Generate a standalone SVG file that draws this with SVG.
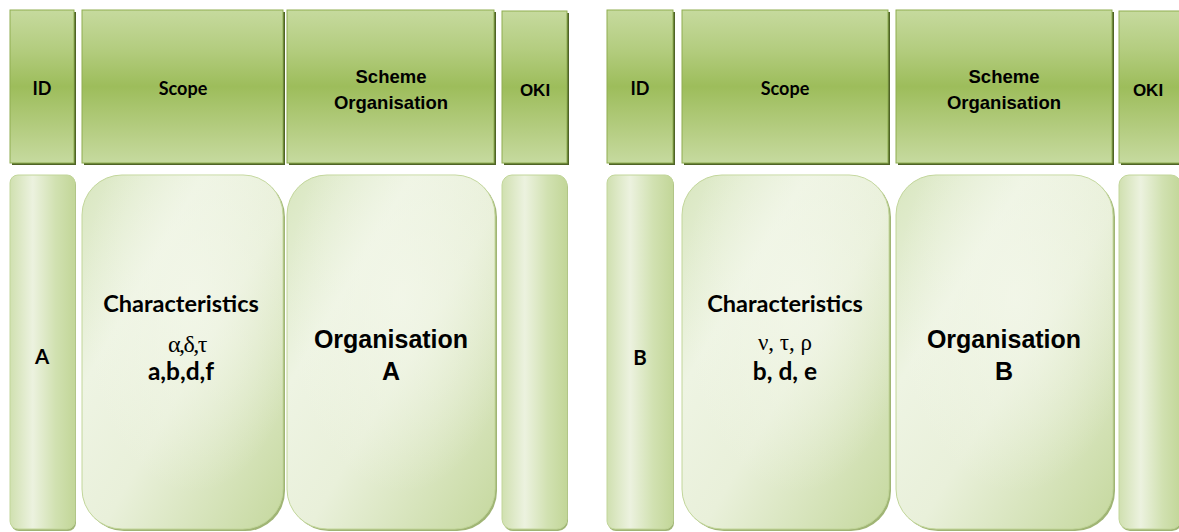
<svg xmlns="http://www.w3.org/2000/svg" width="1179" height="532" viewBox="0 0 1179 532">
<defs>
<linearGradient id="hg" x1="0" y1="0" x2="0" y2="1">
<stop offset="0" stop-color="#c6da9e"/>
<stop offset="0.25" stop-color="#b4cd80"/>
<stop offset="0.5" stop-color="#9dbd5b"/>
<stop offset="0.75" stop-color="#b2cb7d"/>
<stop offset="1" stop-color="#c6da9f"/>
</linearGradient>
<linearGradient id="bg" x1="0" y1="0" x2="1" y2="1">
<stop offset="0" stop-color="#d8e6bf"/>
<stop offset="0.3" stop-color="#eef4e3"/>
<stop offset="0.55" stop-color="#e9f0da"/>
<stop offset="1" stop-color="#c5d89e"/>
</linearGradient>
<linearGradient id="bg2" x1="0" y1="0" x2="1" y2="0">
<stop offset="0" stop-color="#d0e0b0"/>
<stop offset="0.35" stop-color="#ecf2df"/>
<stop offset="0.7" stop-color="#d1e1b1"/>
<stop offset="1" stop-color="#c2d698"/>
</linearGradient>
<radialGradient id="hl" cx="0.55" cy="0.35" r="0.55">
<stop offset="0" stop-color="#f3f7ea" stop-opacity="0.8"/>
<stop offset="1" stop-color="#f3f7ea" stop-opacity="0"/>
</radialGradient>
</defs>
<style>
.hs{fill:#4f6426;}
.h{fill:url(#hg);stroke:#8fae50;stroke-width:1;}
.bs{fill:#a0b575;}
.b{fill:url(#bg);stroke:#c2d69a;stroke-width:1;}
.n{fill:url(#bg2);stroke:#c2d69a;stroke-width:1;}
.t{font-family:Lato,"Liberation Sans",sans-serif;font-weight:bold;fill:#000;text-anchor:middle;}
.a{font-family:"Liberation Sans",Arial,sans-serif;font-weight:bold;fill:#000;text-anchor:middle;}
.g{font-family:"Liberation Serif","Times New Roman",serif;fill:#000;text-anchor:middle;}
</style>

<g id="left-header-id">
<rect class="hs" x="12" y="12" width="64" height="153"/>
<rect class="h" x="10" y="10" width="64" height="153"/>
<text class="t" x="42" y="95" font-size="18">ID</text>
</g>
<g id="left-header-scope">
<rect class="hs" x="84" y="12" width="201" height="153"/>
<rect class="h" x="82" y="10" width="201" height="153"/>
<text class="t" x="183" y="95" font-size="18">Scope</text>
</g>
<g id="left-header-scheme">
<rect class="hs" x="289" y="12" width="207" height="153"/>
<rect class="h" x="287" y="10" width="207" height="153"/>
<text class="a" x="391" y="83" font-size="18.5">Scheme</text>
<text class="a" x="391" y="109" font-size="18.5">Organisation</text>
</g>
<g id="left-header-oki">
<rect class="hs" x="504" y="13" width="65" height="152"/>
<rect class="h" x="502" y="11" width="65" height="152"/>
<text class="a" x="535" y="96" font-size="17">OKI</text>
</g>

<g id="left-id-a">
<rect class="bs" x="11" y="177" width="65" height="354" rx="8"/>
<rect class="n" x="10" y="175" width="65" height="354" rx="8"/>
<text class="t" x="42" y="364" font-size="20.5">A</text>
</g>
<g id="left-scope">
<rect class="bs" x="84" y="177" width="201" height="354" rx="40"/>
<rect class="b" x="82" y="175" width="201" height="354" rx="40"/>
<rect x="82" y="175" width="201" height="354" rx="40" fill="url(#hl)"/>
<text class="t" x="181" y="312" font-size="23.5">Characteristics</text>
<text class="g" x="187" y="352" font-size="24" letter-spacing="-1.5">α,δ,τ</text>
<text class="t" x="181" y="380" font-size="24.5">a,b,d,f</text>
</g>
<g id="left-scheme">
<rect class="bs" x="289" y="177" width="208" height="354" rx="40"/>
<rect class="b" x="287" y="175" width="208" height="354" rx="40"/>
<rect x="287" y="175" width="208" height="354" rx="40" fill="url(#hl)"/>
<text class="a" x="391" y="348" font-size="25">Organisation</text>
<text class="a" x="391" y="380" font-size="25">A</text>
</g>
<g id="left-oki">
<rect class="bs" x="503" y="177" width="65" height="354" rx="10"/>
<rect class="n" x="502" y="175" width="65" height="354" rx="10"/>
</g>

<g id="right-header-id">
<rect class="hs" x="609" y="12" width="66" height="153"/>
<rect class="h" x="607" y="10" width="66" height="153"/>
<text class="t" x="640" y="95" font-size="18">ID</text>
</g>
<g id="right-header-scope">
<rect class="hs" x="684" y="12" width="206" height="153"/>
<rect class="h" x="682" y="10" width="206" height="153"/>
<text class="t" x="785" y="95" font-size="18">Scope</text>
</g>
<g id="right-header-scheme">
<rect class="hs" x="898" y="12" width="216" height="153"/>
<rect class="h" x="896" y="10" width="216" height="153"/>
<text class="a" x="1004" y="83" font-size="18.5">Scheme</text>
<text class="a" x="1004" y="109" font-size="18.5">Organisation</text>
</g>
<g id="right-header-oki">
<rect class="hs" x="1121" y="13" width="60" height="152"/>
<rect class="h" x="1119" y="11" width="62" height="152"/>
<text class="a" x="1148" y="96" font-size="17">OKI</text>
</g>

<g id="right-id-b">
<rect class="bs" x="608" y="177" width="66" height="354" rx="8"/>
<rect class="n" x="607" y="175" width="66" height="354" rx="8"/>
<text class="t" x="640" y="365" font-size="20.5">B</text>
</g>
<g id="right-scope">
<rect class="bs" x="684" y="177" width="207" height="354" rx="40"/>
<rect class="b" x="682" y="175" width="207" height="354" rx="40"/>
<rect x="682" y="175" width="207" height="354" rx="40" fill="url(#hl)"/>
<text class="t" x="785" y="312" font-size="23.5">Characteristics</text>
<text class="g" x="785" y="350" font-size="23">ν, τ, ρ</text>
<text class="t" x="785" y="380" font-size="24.5">b, d, e</text>
</g>
<g id="right-scheme">
<rect class="bs" x="898" y="177" width="217" height="354" rx="40"/>
<rect class="b" x="896" y="175" width="217" height="354" rx="40"/>
<rect x="896" y="175" width="217" height="354" rx="40" fill="url(#hl)"/>
<text class="a" x="1004" y="348" font-size="25">Organisation</text>
<text class="a" x="1004" y="380" font-size="25">B</text>
</g>
<g id="right-oki">
<rect class="bs" x="1120" y="177" width="62" height="354" rx="10"/>
<rect class="n" x="1119" y="175" width="62" height="354" rx="10"/>
</g>

<g id="connectors"></g>
</svg>
